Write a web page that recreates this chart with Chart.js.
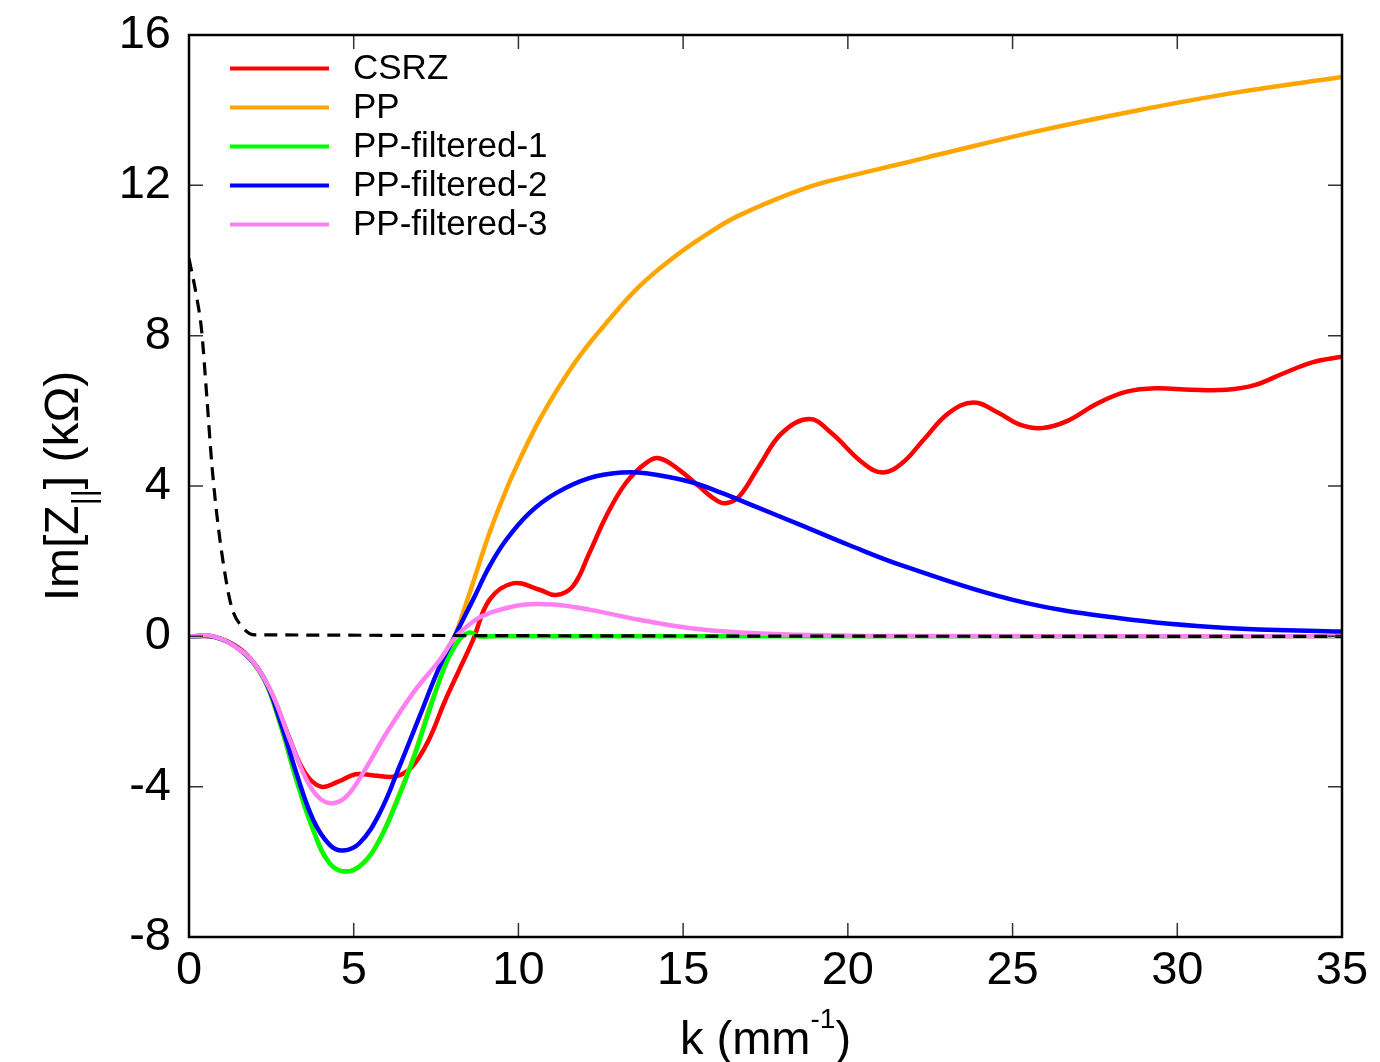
<!DOCTYPE html>
<html>
<head>
<meta charset="utf-8">
<script src="https://cdn.jsdelivr.net/npm/chart.js@4.4.0/dist/chart.umd.min.js"></script>
<style>
  html, body { margin: 0; padding: 0; background: #fff; }
  #grafico { display: block; }
</style>
</head>
<body>
<canvas id="grafico" width="1380" height="1062"></canvas>
<script>
// Im[Z||] vs k - valores leídos a ojo del gráfico original

// CSRZ (rojo)
const csrzK = [0, 0.8, 1.5, 2.0, 2.5, 3.0, 3.5, 4.0, 4.55, 5.05, 5.6, 6.26, 6.76, 7.27, 7.78, 8.28, 8.62, 9.12, 9.83, 10.64, 11.14, 11.65, 12.15, 12.66, 13.26, 13.87, 14.27, 14.88, 15.48, 15.99, 16.29, 16.7, 17.3, 18.0, 18.84, 19.5, 20.46, 21.06, 21.65, 22.3, 23.06, 23.82, 24.58, 25.22, 25.88, 26.63, 27.6, 28.47, 29.34, 30.42, 31.5, 32.37, 33.23, 34.1, 35];
const csrzV = [0, -0.02, -0.3, -0.75, -1.5, -2.6, -3.6, -4.0, -3.86, -3.67, -3.7, -3.73, -3.48, -2.77, -1.7, -0.75, -0.1, 0.97, 1.41, 1.24, 1.1, 1.33, 2.21, 3.19, 4.08, 4.61, 4.74, 4.43, 3.99, 3.63, 3.54, 3.72, 4.52, 5.41, 5.78, 5.41, 4.61, 4.36, 4.61, 5.23, 5.94, 6.22, 5.94, 5.63, 5.54, 5.72, 6.21, 6.51, 6.6, 6.56, 6.56, 6.69, 7.0, 7.29, 7.44];

// PP (naranja)
const ppK = [0, 0.8, 1.55, 2.25, 2.76, 3.26, 3.77, 4.27, 4.78, 5.28, 5.79, 6.29, 6.8, 7.3, 7.55, 7.81, 8.11, 8.62, 9.12, 9.63, 10.13, 10.64, 11.24, 11.85, 12.66, 13.67, 14.68, 15.69, 16.7, 18.69, 20.2, 21.75, 22.76, 25.79, 28.82, 31.85, 35];
const ppV = [0, -0.02, -0.36, -1.1, -2.31, -3.82, -5.15, -6.04, -6.26, -6.04, -5.4, -4.4, -3.25, -1.9, -1.3, -0.65, 0.08, 1.42, 2.75, 3.9, 4.87, 5.76, 6.65, 7.45, 8.33, 9.31, 10.06, 10.68, 11.2, 11.92, 12.28, 12.6, 12.82, 13.45, 14.0, 14.48, 14.88];

// PP-filtered-1 (verde)
const f1K = [0, 0.8, 1.55, 2.25, 2.76, 3.26, 3.77, 4.27, 4.78, 5.28, 5.79, 6.29, 6.8, 7.3, 7.81, 8.21, 8.52, 8.8, 9.2, 35];
const f1V = [0, -0.02, -0.36, -1.1, -2.31, -3.82, -5.15, -6.04, -6.26, -6.04, -5.41, -4.44, -3.29, -1.96, -0.71, -0.09, 0.1, 0, 0, 0];

// PP-filtered-2 (azul)
const f2K = [0, 0.8, 1.55, 2.25, 2.76, 3.26, 3.77, 4.27, 4.68, 5.18, 5.79, 6.39, 7.0, 7.61, 8.11, 8.62, 9.12, 9.63, 10.33, 11.14, 12.15, 13.16, 13.87, 15.18, 16.19, 17.2, 18.52, 20.03, 21.66, 25.01, 28.25, 31.5, 34.75, 35];
const f2V = [0, -0.02, -0.36, -1.07, -2.23, -3.64, -4.88, -5.55, -5.7, -5.5, -4.7, -3.46, -2.13, -0.8, 0.08, 0.97, 1.86, 2.57, 3.28, 3.81, 4.21, 4.36, 4.34, 4.12, 3.81, 3.45, 2.98, 2.43, 1.88, 0.97, 0.48, 0.22, 0.13, 0.13];

// PP-filtered-3 (rosa)
const f3K = [0, 0.74, 1.55, 2.05, 2.56, 3.06, 3.57, 3.97, 4.37, 4.78, 5.28, 5.99, 6.8, 7.61, 8.11, 8.72, 9.12, 10.13, 11.14, 12.15, 13.67, 15.18, 16.7, 18.5, 20.5, 35];
const f3V = [0, 0, -0.36, -0.8, -1.6, -2.75, -3.82, -4.31, -4.44, -4.26, -3.64, -2.58, -1.51, -0.63, 0, 0.45, 0.62, 0.84, 0.84, 0.71, 0.44, 0.22, 0.1, 0.04, 0.01, 0];

// curva negra a trazos (sin leyenda)
const refK = [0, 0.23, 0.38, 0.54, 0.69, 0.84, 1.04, 1.29, 1.65, 2.0, 35];
const refV = [10.05, 9.04, 8.16, 6.38, 4.61, 3.28, 1.95, 0.79, 0.22, 0.04, 0];

// ticks
const xTicks = [0, 5, 10, 15, 20, 25, 30, 35];
const yTicks = [-8, -4, 0, 4, 8, 12, 16];

const FONT = '"Liberation Sans", Arial, Helvetica, sans-serif';

function serie(ks, vs) {
    return ks.map((k, i) => ({ x: k, y: vs[i] }));
}

// order: el menor se dibuja arriba (como gnuplot, el último encima)
const datasets = [
    { label: 'CSRZ', data: serie(csrzK, csrzV), borderColor: '#ff0000', order: 6 },
    { label: 'PP', data: serie(ppK, ppV), borderColor: '#ffa500', order: 5 },
    { label: 'PP-filtered-1', data: serie(f1K, f1V), borderColor: '#00ff00', order: 4 },
    { label: 'PP-filtered-2', data: serie(f2K, f2V), borderColor: '#0000ff', order: 3 },
    { label: 'PP-filtered-3', data: serie(f3K, f3V), borderColor: '#ff80f0', order: 2 },
    { label: '', data: serie(refK, refV), borderColor: '#000000', borderWidth: 3.2, borderDash: [13, 8],
      tension: 0, cubicInterpolationMode: 'monotone', order: 1 }
];

// marco, ticks hacia adentro, leyenda y títulos de ejes (estilo gnuplot)
const estiloGnuplot = {
    id: 'estiloGnuplot',
    afterDraw(chart) {
        const { ctx, chartArea: a, scales } = chart;
        const x = scales.x, y = scales.y;
        ctx.save();

        // ticks en los 4 lados
        ctx.strokeStyle = '#333';
        ctx.lineWidth = 1.5;
        ctx.beginPath();
        xTicks.forEach(v => {
            const px = x.getPixelForValue(v);
            ctx.moveTo(px, a.bottom); ctx.lineTo(px, a.bottom - 14);
            ctx.moveTo(px, a.top); ctx.lineTo(px, a.top + 14);
        });
        yTicks.forEach(v => {
            const py = y.getPixelForValue(v);
            ctx.moveTo(a.left, py); ctx.lineTo(a.left + 14, py);
            ctx.moveTo(a.right, py); ctx.lineTo(a.right - 14, py);
        });
        ctx.stroke();

        // marco
        ctx.strokeStyle = '#000';
        ctx.lineWidth = 2.5;
        ctx.strokeRect(a.left, a.top, a.right - a.left, a.bottom - a.top);

        // leyenda
        ctx.font = '35px ' + FONT;
        ctx.textBaseline = 'middle';
        ctx.textAlign = 'left';
        let fila = 0;
        chart.data.datasets.forEach(ds => {
            if (!ds.label) return;
            const py = a.top + 33.5 + fila * 39;
            ctx.strokeStyle = ds.borderColor;
            ctx.lineWidth = 4;
            ctx.beginPath();
            ctx.moveTo(a.left + 41, py);
            ctx.lineTo(a.left + 140, py);
            ctx.stroke();
            ctx.fillStyle = '#000';
            ctx.fillText(ds.label, a.left + 164, py + 1);
            fila++;
        });

        // título eje x: k (mm^-1)
        ctx.textBaseline = 'alphabetic';
        ctx.fillStyle = '#000';
        const big = '47px ' + FONT, small = '28px ' + FONT;
        ctx.font = big;
        const p1 = 'k (mm', p3 = ')';
        const w1 = ctx.measureText(p1).width, w3 = ctx.measureText(p3).width;
        ctx.font = small;
        const w2 = ctx.measureText('-1').width;
        let cx = (a.left + a.right) / 2 - (w1 + w2 + w3) / 2;
        const base = 1054;
        ctx.font = big; ctx.fillText(p1, cx, base); cx += w1;
        ctx.font = small; ctx.fillText('-1', cx, base - 26); cx += w2;
        ctx.font = big; ctx.fillText(p3, cx, base);

        // título eje y: Im[Z||] (kΩ)
        ctx.translate(78, (a.top + a.bottom) / 2);
        ctx.rotate(-Math.PI / 2);
        const yBig = '48px ' + FONT, ySmall = '31px ' + FONT;
        const q1 = 'Im[Z', q2 = '||', q3 = '] (kΩ)';
        ctx.font = yBig;
        const v1 = ctx.measureText(q1).width, v3 = ctx.measureText(q3).width;
        ctx.font = ySmall;
        const v2 = ctx.measureText(q2).width;
        let cy = -(v1 + v2 + v3) / 2;
        ctx.font = yBig; ctx.fillText(q1, cy, 0); cy += v1;
        ctx.font = ySmall; ctx.fillText(q2, cy, 16); cy += v2;
        ctx.font = yBig; ctx.fillText(q3, cy, 0);

        ctx.restore();
    }
};

new Chart(document.getElementById('grafico').getContext('2d'), {
    type: 'line',
    data: { datasets: datasets },
    options: {
        responsive: false,
        animation: false,
        devicePixelRatio: 1,
        layout: { padding: { top: 35, right: 38, bottom: 0, left: 0 } },
        elements: {
            point: { radius: 0 },
            line: { borderWidth: 4.5, tension: 0.4, fill: false }
        },
        scales: {
            x: {
                type: 'linear', min: 0, max: 35,
                grid: { display: false, drawTicks: false },
                border: { display: false },
                ticks: { stepSize: 5, padding: 6, color: '#000', font: { family: FONT, size: 47 } },
                afterFit(s) { s.height = 125; s.paddingLeft = 0; s.paddingRight = 0; }
            },
            y: {
                min: -8, max: 16,
                grid: { display: false, drawTicks: false },
                border: { display: false },
                ticks: { stepSize: 4, padding: 18, color: '#000', font: { family: FONT, size: 47 } },
                afterFit(s) { s.width = 189; s.paddingTop = 0; s.paddingBottom = 0; }
            }
        },
        plugins: {
            legend: { display: false },
            tooltip: { enabled: false }
        }
    },
    plugins: [estiloGnuplot]
});
</script>
</body>
</html>
